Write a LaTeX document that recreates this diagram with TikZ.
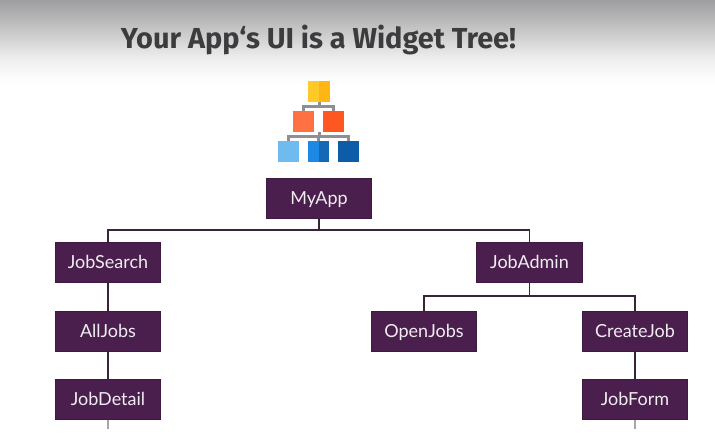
\documentclass[tikz,border=0pt]{standalone}
\usepackage{fontspec}
\setmainfont{Lato}
\newfontfamily\titlefont{Fira Sans}
\definecolor{boxfill}{HTML}{4A1F4D}
\definecolor{boxedge}{HTML}{3E1A42}
\definecolor{linec}{HTML}{3A2238}
\definecolor{titlec}{HTML}{3C3C3E}
\definecolor{icgray}{HTML}{8E8E93}
\definecolor{icyela}{HTML}{FFCA28}
\definecolor{icyelb}{HTML}{FFB612}
\definecolor{icora}{HTML}{FF7043}
\definecolor{icorb}{HTML}{FF5722}
\definecolor{icbla}{HTML}{6FBBEF}
\definecolor{icblb}{HTML}{1E88E5}
\definecolor{icblc}{HTML}{1569B4}
\definecolor{icbld}{HTML}{0D5CA8}
\pgfdeclareverticalshading{topfade}{100bp}{
  rgb(0bp)=(1,1,1);
  rgb(25bp)=(1,1,1);
  rgb(30bp)=(0.985,0.985,0.985);
  rgb(41bp)=(0.93,0.93,0.93);
  rgb(55bp)=(0.80,0.80,0.80);
  rgb(75bp)=(0.62,0.62,0.63);
  rgb(100bp)=(0.62,0.62,0.63)}
\begin{document}
\begin{tikzpicture}[x=1pt,y=-1pt,
  wbox/.style={draw=boxedge,line width=0.7pt,fill=boxfill,text=white!92!boxfill,minimum width=105.5pt,minimum height=40pt,inner sep=0pt,text height=14pt,text depth=2pt,font=\fontsize{18}{20}\selectfont},
  tree/.style={draw=linec,line width=1.3pt},
  tail/.style={draw=black!35,line width=1.1pt},
  icbar/.style={draw=icgray,line width=3pt},
  tile/.style={minimum size=21pt,inner sep=0pt}]
\useasboundingbox (0,0) rectangle (715,442);
\fill[white] (0,0) rectangle (715,442);
\path[shading=topfade] (0,0) rectangle (715,85);
\node[font=\titlefont\bfseries\fontsize{28.9}{32}\selectfont,text=titlec,anchor=center] (title) at (318.5,40) {Your App‘s UI is a Widget Tree!};
% icon
\node[tile] (ia) at (319,91.5) {};
\node[tile] (ib) at (303.5,121.5) {};
\node[tile] (ic) at (333.5,121.5) {};
\node[tile] (id) at (288.5,151.5) {};
\node[tile] (ie) at (318.5,151.5) {};
\node[tile] (if) at (348.5,151.5) {};
\draw[icbar] (ia.center) -- (319,106) (ib.north) -- (303.5,106) -- (333.5,106) -- (ic.north);
\draw[icbar] (319,132) -- (319,136.5) (id.north) -- (288.5,136.5) -- (348.5,136.5) -- (if.north) (ie.north) -- (318.5,136.5);
\fill[icyela] (ia.north west) rectangle (ia.south);
\fill[icyelb] (ia.north) rectangle (ia.south east);
\fill[icora] (ib.north west) rectangle (ib.south east);
\fill[icorb] (ic.north west) rectangle (ic.south east);
\fill[icbla] (id.north west) rectangle (id.south east);
\fill[icblb] (ie.north west) rectangle (ie.south);
\fill[icblc] (ie.north) rectangle (ie.south east);
\fill[icbld] (if.north west) rectangle (if.south east);
% widget nodes
\node[wbox] (myapp) at (319,198) {MyApp};
\node[wbox] (jobsearch) at (108,262) {JobSearch};
\node[wbox] (jobadmin) at (529.5,262) {JobAdmin};
\node[wbox] (alljobs) at (108,331) {AllJobs};
\node[wbox] (jobdetail) at (108,399.5) {JobDetail};
\node[wbox] (openjobs) at (424,331) {OpenJobs};
\node[wbox] (createjob) at (635,331) {CreateJob};
\node[wbox] (jobform) at (635,399.5) {JobForm};
\coordinate (bus1) at (319,230);
\coordinate (bus2) at (529.5,296);
\coordinate (end1) at (108,429);
\coordinate (end2) at (635,429);
\draw[tree] (myapp.south) -- (bus1);
\draw[tree] (jobsearch.north) |- (bus1) -| (jobadmin.north);
\draw[tree] (jobadmin.south) -- (bus2);
\draw[tree] (openjobs.north) |- (bus2) -| (createjob.north);
\draw[tree] (jobsearch.south) -- (alljobs.north);
\draw[tree] (alljobs.south) -- (jobdetail.north);
\draw[tree] (createjob.south) -- (jobform.north);
\draw[tail] (jobdetail.south) -- (end1);
\draw[tail] (jobform.south) -- (end2);
\end{tikzpicture}
\end{document}
